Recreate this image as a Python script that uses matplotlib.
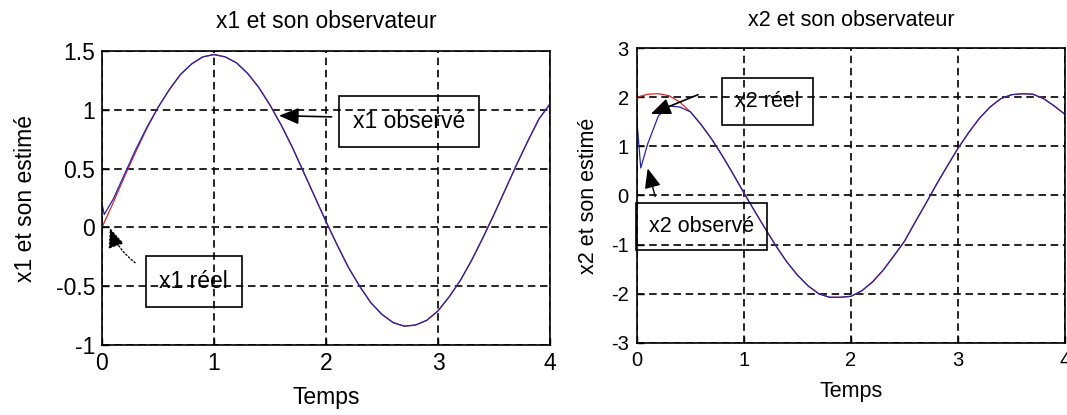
import matplotlib
matplotlib.use('Agg')
import matplotlib.pyplot as plt
import numpy as np

plt.rcParams['font.family'] = ['Liberation Sans', 'DejaVu Sans']
plt.rcParams['axes.unicode_minus'] = False

# ---------------- data ----------------
t = np.round(np.arange(0, 4.0001, 0.1), 1)

x1_reel = [0.00, 0.21, 0.43, 0.64, 0.84, 1.02, 1.17, 1.30, 1.39, 1.45, 1.47,
           1.45, 1.40, 1.31, 1.19, 1.04, 0.87, 0.68, 0.47, 0.26, 0.05,
           -0.15, -0.34, -0.50, -0.64, -0.74, -0.81, -0.84, -0.83, -0.79, -0.71,
           -0.59, -0.45, -0.28, -0.09, 0.11, 0.32, 0.53, 0.73, 0.92, 1.05]

x2_reel = [2.00, 2.06, 2.07, 2.03, 1.90, 1.70, 1.44, 1.14, 0.80, 0.43, 0.05,
           -0.32, -0.68, -1.03, -1.35, -1.62, -1.84, -2.00, -2.07, -2.07, -2.05,
           -1.94, -1.76, -1.52, -1.23, -0.93, -0.54, -0.16, 0.23, 0.60, 0.96,
           1.28, 1.57, 1.80, 1.97, 2.05, 2.07, 2.06, 1.97, 1.82, 1.65]

# observer transients (start of the estimated curves), then they follow the real states
x1_obs_t0 = [0.0, 0.02, 0.1, 0.2, 0.3, 0.4]
x1_obs_v0 = [0.20, 0.11, 0.24, 0.45, 0.66, 0.85]
x2_obs_t0 = [0.0, 0.035, 0.1, 0.2, 0.3, 0.4]
x2_obs_v0 = [1.50, 0.56, 1.05, 1.62, 1.82, 1.80]

x1_obs_t = list(x1_obs_t0) + list(t[5:])
x1_obs = list(x1_obs_v0) + list(x1_reel[5:])
x2_obs_t = list(x2_obs_t0) + list(t[5:])
x2_obs = list(x2_obs_v0) + list(x2_reel[5:])

x_ticks = [0, 1, 2, 3, 4]
y1_ticks = [-1, -0.5, 0, 0.5, 1, 1.5]
y1_ticklabels = ['-1', '-0.5', '0', '0.5', '1', '1.5']
y2_ticks = [-3, -2, -1, 0, 1, 2, 3]

# ---------------- figure ----------------
W, H = 1067, 415
fig = plt.figure(figsize=(W / 100, H / 100), dpi=100)


def rect(l, t_, r, b):
    return [l / W, 1 - b / H, (r - l) / W, (b - t_) / H]


ax1 = fig.add_axes(rect(102, 51, 550, 345))
ax2 = fig.add_axes(rect(637, 48, 1065, 343))

RED = '#d82828'
BLUE = '#2424a8'
dash = (0, (4.5, 2.8))

for ax in (ax1, ax2):
    ax.grid(True, color='k', linestyle=dash, linewidth=1.2)
    for sp in ax.spines.values():
        sp.set_linewidth(1.2)
        sp.set_color('k')

head = '-|>,head_length=0.6,head_width=0.25'

# left plot
ax1.plot(t, x1_reel, color=RED, lw=0.9)
ax1.plot(x1_obs_t, x1_obs, color=BLUE, lw=0.9)
ax1.set_xlim(0, 4)
ax1.set_ylim(-1, 1.5)
ax1.set_xticks(x_ticks)
ax1.set_yticks(y1_ticks)
ax1.set_yticklabels(y1_ticklabels)
ax1.tick_params(direction='in', length=5, width=1, labelsize=16.5, pad=5)
ax1.set_title('x1 et son observateur', fontsize=16.5, y=1.099, va='center', pad=0)
ax1.set_xlabel('Temps', fontsize=16.5)
ax1.xaxis.set_label_coords(0.5, -0.180)
ax1.xaxis.label.set_va('center')
ax1.set_ylabel('x1 et son estimé', fontsize=16.5)
ax1.yaxis.set_label_coords(-0.170, 0.5)
ax1.yaxis.label.set_va('center')

box = dict(boxstyle='square,pad=0.6', fc='none', ec='k', lw=1.2)
ax1.text(2.74, 0.90, 'x1 observé', fontsize=16.5, ha='center', va='center', bbox=box)
ax1.annotate('', xy=(1.58, 0.95), xytext=(2.05, 0.94),
             arrowprops=dict(arrowstyle=head, mutation_scale=20, color='k', lw=1.2,
                             shrinkA=0, shrinkB=0))
ax1.text(0.82, -0.46, 'x1 réel', fontsize=16.5, ha='center', va='center', bbox=box)
ax1.annotate('', xy=(0.07, -0.005), xytext=(0.295, -0.30),
             arrowprops=dict(arrowstyle=head, mutation_scale=20, color='k', lw=1.0,
                             linestyle=':', connectionstyle='arc3,rad=-0.15',
                             shrinkA=0, shrinkB=0))

# right plot
ax2.plot(t, x2_reel, color=RED, lw=0.9)
ax2.plot(x2_obs_t, x2_obs, color=BLUE, lw=0.9)
ax2.set_xlim(0, 4)
ax2.set_ylim(-3, 3)
ax2.set_xticks(x_ticks)
ax2.set_yticks(y2_ticks)
ax2.tick_params(direction='in', length=5, width=1, labelsize=14.5, pad=6)
ax2.set_title('x2 et son observateur', fontsize=15.5, y=1.092, va='center', pad=0)
ax2.set_xlabel('Temps', fontsize=15.5)
ax2.xaxis.set_label_coords(0.5, -0.163)
ax2.xaxis.label.set_va('center')
ax2.set_ylabel('x2 et son estimé', fontsize=15.5)
ax2.yaxis.set_label_coords(-0.114, 0.5)
ax2.yaxis.label.set_va('center')

box2 = dict(boxstyle='square,pad=0.6', fc='none', ec='k', lw=1.2)
ax2.text(1.22, 1.92, 'x2 réel', fontsize=15.5, ha='center', va='center', bbox=box2)
ax2.annotate('', xy=(0.13, 1.66), xytext=(0.57, 2.05),
             arrowprops=dict(arrowstyle=head, mutation_scale=20, color='k', lw=1.2,
                             shrinkA=0, shrinkB=0))
ax2.text(0.60, -0.63, 'x2 observé', fontsize=15.5, ha='center', va='center', bbox=box2)
ax2.annotate('', xy=(0.10, 0.55), xytext=(0.17, -0.02),
             arrowprops=dict(arrowstyle=head, mutation_scale=20, color='k', lw=1.0,
                             shrinkA=0, shrinkB=0))

fig.savefig('out.png', dpi=100)
